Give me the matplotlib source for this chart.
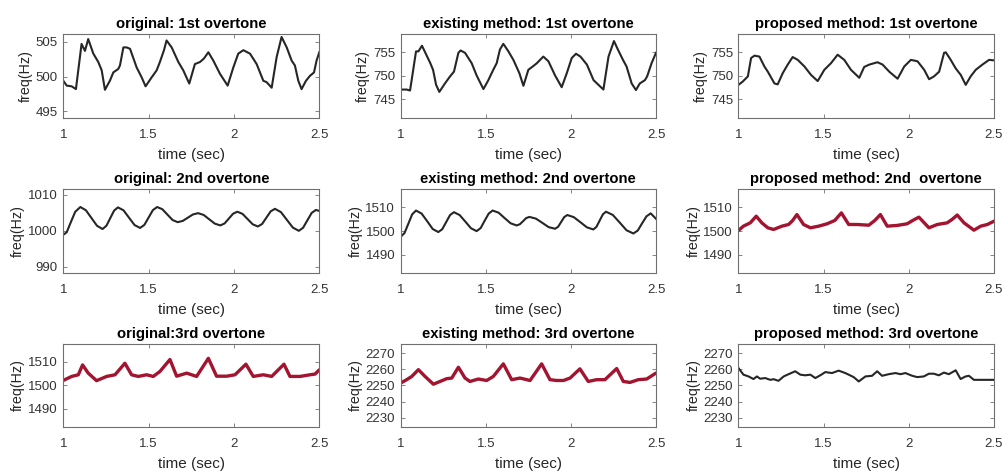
import numpy as np
import matplotlib

matplotlib.use("Agg")
import matplotlib.pyplot as plt

plt.rcParams["font.family"] = ["Liberation Sans", "DejaVu Sans"]

DARK = "#262626"
RED = "#A2142F"
GRID_GRAY = "#707070"

# ---- traced curves (time in sec, freq in Hz) ----
t_orig1 = [1.0, 1.02, 1.049, 1.074, 1.107, 1.127, 1.146, 1.176, 1.205, 1.225, 1.244, 1.273, 1.293,
           1.322, 1.332, 1.352, 1.371, 1.391, 1.43, 1.459, 1.482, 1.518, 1.547, 1.566, 1.59, 1.605,
           1.635, 1.674, 1.703, 1.738, 1.771, 1.801, 1.824, 1.85, 1.879, 1.918, 1.963, 1.996, 2.025,
           2.055, 2.094, 2.133, 2.172, 2.191, 2.221, 2.25, 2.279, 2.309, 2.338, 2.357, 2.377, 2.396,
           2.422, 2.445, 2.469, 2.484, 2.5]
f_orig1 = [499.4, 498.7, 498.6, 498.2, 504.7, 503.7, 505.4, 503.3, 502.1, 500.9, 498.1, 499.4, 500.6,
           501.1, 501.6, 504.2, 504.2, 504.0, 501.3, 499.9, 498.6, 499.9, 500.9, 502.1, 503.8, 505.2,
           504.2, 502.1, 500.9, 499.0, 501.8, 502.1, 502.6, 503.5, 502.3, 500.4, 498.7, 501.3, 503.3,
           503.8, 503.3, 501.8, 499.4, 499.2, 498.4, 502.8, 505.7, 504.2, 502.3, 501.6, 499.4, 498.2,
           499.4, 500.1, 500.6, 502.3, 503.5]

t_exist1 = [1.0, 1.035, 1.055, 1.09, 1.104, 1.125, 1.141, 1.174, 1.19, 1.208, 1.227, 1.26, 1.29, 1.313,
            1.339, 1.352, 1.378, 1.417, 1.446, 1.486, 1.515, 1.544, 1.564, 1.583, 1.603, 1.633, 1.662,
            1.697, 1.721, 1.75, 1.776, 1.8, 1.838, 1.868, 1.907, 1.946, 1.976, 2.005, 2.03, 2.056, 2.094,
            2.133, 2.162, 2.191, 2.221, 2.253, 2.276, 2.306, 2.327, 2.357, 2.382, 2.405, 2.435, 2.448,
            2.474, 2.5]
f_exist1 = [747.1, 747.1, 746.9, 755.2, 755.2, 756.4, 755.2, 752.7, 751.3, 748.1, 746.6, 748.4, 749.9,
            750.9, 754.9, 755.4, 754.9, 752.7, 750.1, 747.2, 749.1, 751.3, 752.7, 755.6, 756.8, 755.2,
            753.4, 750.6, 747.9, 751.3, 752.0, 752.7, 754.1, 753.1, 750.1, 747.6, 750.6, 753.8, 754.7,
            754.1, 752.4, 749.1, 748.1, 747.1, 754.1, 757.4, 755.6, 753.4, 752.0, 748.4, 747.0, 748.4,
            749.1, 749.9, 752.7, 754.9]

t_prop1 = [1.0, 1.025, 1.055, 1.074, 1.094, 1.123, 1.152, 1.172, 1.211, 1.23, 1.26, 1.289, 1.318, 1.348,
           1.387, 1.426, 1.465, 1.504, 1.543, 1.582, 1.621, 1.66, 1.709, 1.738, 1.768, 1.816, 1.846,
           1.885, 1.934, 1.973, 2.012, 2.051, 2.09, 2.119, 2.148, 2.178, 2.207, 2.217, 2.246, 2.275,
           2.305, 2.334, 2.363, 2.393, 2.432, 2.471, 2.5]
f_prop1 = [748.1, 748.8, 749.9, 753.8, 754.3, 754.1, 752.0, 750.9, 748.4, 748.2, 750.6, 752.4, 754.0,
           753.4, 752.0, 750.2, 748.9, 751.3, 752.7, 754.5, 753.4, 751.3, 749.6, 751.9, 752.4, 752.9,
           752.4, 750.9, 749.4, 752.0, 753.4, 753.1, 751.3, 749.3, 749.9, 750.9, 754.9, 755.0, 753.4,
           751.6, 750.2, 748.1, 749.9, 751.3, 752.4, 753.4, 753.3]

t_orig2 = [1.0, 1.02, 1.045, 1.07, 1.1, 1.1325, 1.165, 1.1975, 1.23, 1.2525, 1.275, 1.2975, 1.32,
           1.3525, 1.385, 1.4175, 1.45, 1.475, 1.5, 1.525, 1.55, 1.58, 1.61, 1.64, 1.67, 1.7, 1.73,
           1.76, 1.79, 1.8225, 1.855, 1.8875, 1.92, 1.945, 1.97, 1.995, 2.02, 2.05, 2.08, 2.11, 2.14,
           2.165, 2.19, 2.215, 2.24, 2.275, 2.31, 2.345, 2.38, 2.405, 2.43, 2.455, 2.48, 2.5]
f_orig2 = [998.9, 999.6, 1002.5, 1005.3, 1006.6, 1005.7, 1003.55, 1001.4, 1000.5, 1001.4, 1003.5,
           1005.6, 1006.5, 1005.7, 1003.65, 1001.6, 1000.8, 1001.65, 1003.7, 1005.75, 1006.6, 1006.0,
           1004.5, 1003.0, 1002.4, 1002.75, 1003.65, 1004.55, 1004.9, 1004.4, 1003.2, 1002.0, 1001.5,
           1002.05, 1003.4, 1004.75, 1005.3, 1004.7, 1003.25, 1001.8, 1001.2, 1001.9, 1003.65, 1005.4,
           1006.1, 1005.2, 1003.05, 1000.9, 1000.0, 1000.85, 1002.9, 1004.95, 1005.8, 1005.5]

t_exist2 = [1.0, 1.0225, 1.045, 1.0675, 1.09, 1.123, 1.156, 1.188, 1.221, 1.244, 1.267, 1.29, 1.313,
            1.346, 1.38, 1.413, 1.446, 1.47, 1.493, 1.517, 1.54, 1.575, 1.61, 1.646, 1.681, 1.7, 1.719,
            1.737, 1.756, 1.794, 1.832, 1.869, 1.907, 1.925, 1.943, 1.961, 1.979, 2.017, 2.056, 2.094,
            2.132, 2.15, 2.169, 2.188, 2.206, 2.246, 2.287, 2.327, 2.367, 2.393, 2.418, 2.444, 2.469,
            2.5]
f_exist2 = [1497.6, 1499.2, 1503.15, 1507.1, 1508.7, 1507.4, 1504.15, 1500.9, 1499.6, 1500.8, 1503.8,
            1506.8, 1508.0, 1506.8, 1504.0, 1501.2, 1500.0, 1501.3, 1504.35, 1507.4, 1508.7, 1507.8,
            1505.55, 1503.3, 1502.4, 1502.9, 1504.2, 1505.5, 1506.0, 1505.3, 1503.5, 1501.7, 1501.0,
            1501.85, 1503.9, 1505.95, 1506.8, 1505.9, 1503.75, 1501.6, 1500.7, 1501.8, 1504.45, 1507.1,
            1508.2, 1506.85, 1503.6, 1500.35, 1499.0, 1500.25, 1503.25, 1506.25, 1507.5, 1505.2]

t_prop2 = [1.0, 1.029, 1.069, 1.104, 1.137, 1.172, 1.206, 1.255, 1.294, 1.318, 1.343, 1.382, 1.422,
           1.471, 1.52, 1.565, 1.604, 1.647, 1.696, 1.765, 1.8, 1.833, 1.873, 1.931, 1.99, 2.025, 2.059,
           2.118, 2.167, 2.225, 2.255, 2.284, 2.324, 2.382, 2.422, 2.461, 2.5]
f_prop2 = [1500.3, 1502.1, 1503.5, 1506.3, 1503.5, 1501.4, 1500.7, 1502.1, 1502.8, 1504.5, 1507.0,
           1502.8, 1501.4, 1502.1, 1503.1, 1504.5, 1507.7, 1502.8, 1502.8, 1502.5, 1504.5, 1507.0,
           1502.1, 1502.4, 1503.1, 1504.6, 1505.9, 1501.4, 1502.8, 1503.5, 1505.0, 1506.8, 1503.5,
           1500.4, 1502.1, 1502.8, 1504.2]

t_orig3 = [1.0, 1.049, 1.088, 1.113, 1.146, 1.195, 1.254, 1.303, 1.361, 1.4, 1.439, 1.488, 1.527,
           1.566, 1.625, 1.664, 1.723, 1.781, 1.85, 1.898, 1.957, 2.006, 2.07, 2.113, 2.172, 2.221,
           2.293, 2.328, 2.387, 2.445, 2.475, 2.5]
f_orig3 = [1502.1, 1503.8, 1504.5, 1508.7, 1505.2, 1502.0, 1503.8, 1504.5, 1509.4, 1504.5, 1503.8,
           1504.5, 1503.8, 1505.9, 1511.0, 1503.9, 1505.2, 1503.8, 1511.5, 1503.9, 1503.9, 1504.5,
           1509.0, 1503.8, 1504.5, 1503.8, 1509.0, 1503.8, 1503.8, 1504.5, 1504.8, 1506.6]

t_exist3 = [1.0, 1.035, 1.065, 1.104, 1.143, 1.192, 1.231, 1.27, 1.3, 1.339, 1.378, 1.407, 1.456,
            1.505, 1.544, 1.603, 1.652, 1.701, 1.76, 1.828, 1.877, 1.916, 1.956, 1.995, 2.053, 2.102,
            2.151, 2.2, 2.269, 2.308, 2.347, 2.396, 2.445, 2.5]
f_exist3 = [2251.5, 2253.6, 2255.6, 2259.8, 2255.6, 2250.8, 2252.5, 2254.2, 2254.6, 2261.3, 2254.6,
            2252.5, 2254.0, 2253.1, 2255.6, 2263.4, 2253.6, 2254.6, 2253.1, 2263.4, 2253.6, 2253.1,
            2253.1, 2254.6, 2260.3, 2252.5, 2253.6, 2253.6, 2260.5, 2252.5, 2251.9, 2253.6, 2254.0,
            2257.7]

t_prop3 = [1.0, 1.029, 1.059, 1.088, 1.108, 1.127, 1.157, 1.186, 1.206, 1.235, 1.265, 1.294, 1.333,
           1.363, 1.392, 1.422, 1.451, 1.48, 1.51, 1.549, 1.588, 1.627, 1.647, 1.676, 1.706, 1.745,
           1.784, 1.814, 1.843, 1.882, 1.922, 1.951, 1.98, 2.02, 2.049, 2.088, 2.118, 2.147, 2.176,
           2.206, 2.235, 2.275, 2.304, 2.333, 2.353, 2.382, 2.431, 2.5]
f_prop3 = [2260.8, 2256.7, 2255.6, 2254.0, 2255.6, 2254.2, 2254.6, 2253.5, 2253.9, 2252.9, 2255.6,
           2257.0, 2258.8, 2256.7, 2256.3, 2256.7, 2254.6, 2256.3, 2258.3, 2257.7, 2259.2, 2257.7,
           2256.7, 2255.2, 2252.5, 2255.6, 2256.0, 2258.8, 2256.0, 2257.0, 2257.7, 2257.0, 2257.7,
           2256.0, 2255.2, 2255.6, 2257.3, 2257.3, 2256.3, 2258.0, 2257.0, 2259.4, 2254.0, 2255.6,
           2256.0, 2253.5, 2253.5, 2253.5]

titles = [
    ["original: 1st overtone", "existing method: 1st overtone", "proposed method: 1st overtone"],
    ["original: 2nd overtone", "existing method: 2nd overtone", "proposed method: 2nd  overtone"],
    ["original:3rd overtone", "existing method: 3rd overtone", "proposed method: 3rd overtone"],
]
series = [
    [(t_orig1, f_orig1), (t_exist1, f_exist1), (t_prop1, f_prop1)],
    [(t_orig2, f_orig2), (t_exist2, f_exist2), (t_prop2, f_prop2)],
    [(t_orig3, f_orig3), (t_exist3, f_exist3), (t_prop3, f_prop3)],
]
red_panels = {(1, 2), (2, 0), (2, 1)}

ylims = [
    [(494, 506.2), (741, 759), (741, 759)],
    [(988.3, 1011.6), (1482.3, 1517.8), (1482.3, 1517.8)],
    [(1482.3, 1517.8), (2224.3, 2276), (2224.3, 2276)],
]
yticks = [
    [[495, 500, 505], [745, 750, 755], [745, 750, 755]],
    [[990, 1000, 1010], [1490, 1500, 1510], [1490, 1500, 1510]],
    [[1490, 1500, 1510], [2230, 2240, 2250, 2260, 2270], [2230, 2240, 2250, 2260, 2270]],
]

W, H = 1004, 471
fig = plt.figure(figsize=(W / 100, H / 100), dpi=100)
col_lr = [(63.3, 319.3), (400.7, 656), (738.5, 994)]
row_tb = [(33.5, 118.3), (189, 273), (343.5, 427)]

for r in range(3):
    for c in range(3):
        l, rr = col_lr[c]
        tp, bt = row_tb[r]
        ax = fig.add_axes([l / W, 1 - bt / H, (rr - l) / W, (bt - tp) / H])
        t, f = series[r][c]
        if (r, c) in red_panels:
            ax.plot(t, f, color=RED, lw=2.4, solid_capstyle="round", solid_joinstyle="round")
        else:
            ax.plot(t, f, color=DARK, lw=1.5, solid_joinstyle="round")
        ax.set_xlim(1, 2.5)
        ax.set_ylim(*ylims[r][c])
        ax.set_xticks([1, 1.5, 2, 2.5])
        ax.set_xticklabels(["1", "1.5", "2", "2.5"])
        ax.set_yticks(yticks[r][c])
        ax.tick_params(direction="in", length=3, width=0.6, colors=GRID_GRAY,
                       labelsize=9.5, top=True, right=True, labelcolor="#333333")
        ax.tick_params(axis="x", pad=8)
        ax.tick_params(axis="y", pad=4)
        for s in ax.spines.values():
            s.set_color(GRID_GRAY)
            s.set_linewidth(0.8)
        ax.set_title(titles[r][c], fontsize=10.7, fontweight="bold", color="black", pad=4)
        ax.set_xlabel("time (sec)", fontsize=11, color=DARK, labelpad=5)
        ax.set_ylabel("freq(Hz)", fontsize=10.3, color=DARK, labelpad=2)

fig.savefig("out.png", dpi=100)
